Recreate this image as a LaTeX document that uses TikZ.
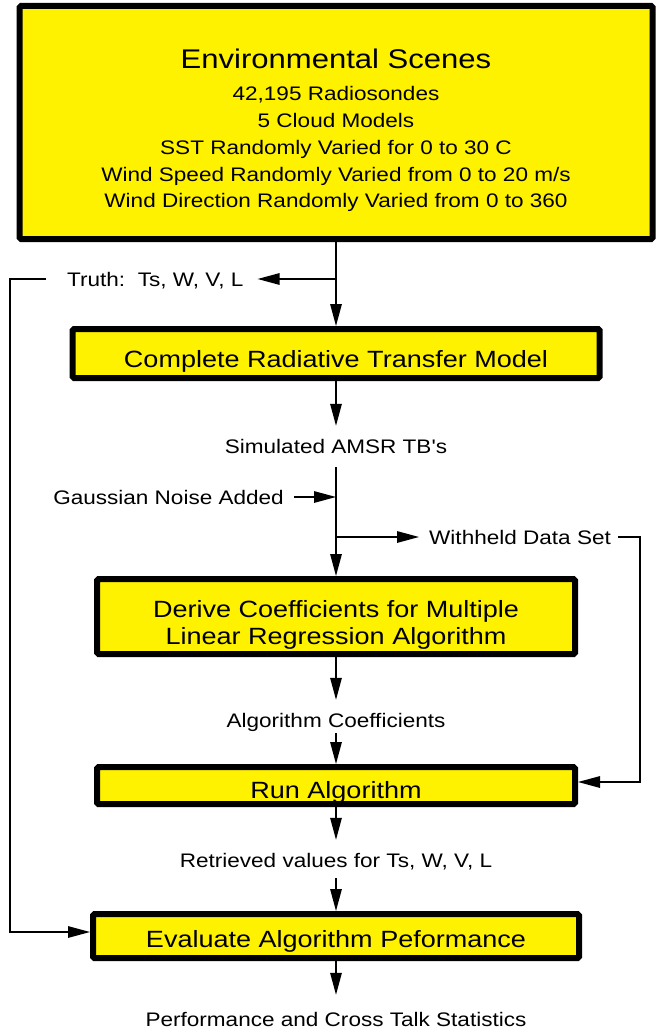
\documentclass[tikz,border=0pt]{standalone}
\usepackage{fontspec}
\setmainfont[FakeStretch=1.15, Ligatures=TeXOff]{Liberation Sans}
\usetikzlibrary{arrows.meta}

\newcommand{\titlesize}{\fontsize{27}{33}\selectfont}
\newcommand{\boxsize}{\fontsize{23.5}{27}\selectfont}
\newcommand{\notesize}{\fontsize{19.6}{26.75}\selectfont}

\begin{document}
\begin{tikzpicture}[x=1pt, y=-1pt,
  stage/.style={draw, line width=6pt, fill=yellow, rounded corners=1.5pt, align=center, font=\boxsize, inner sep=0pt},
  oneline/.style={text height=25pt, text depth=0pt},
  note/.style={font=\notesize, inner sep=0pt, text height=14pt, text depth=0pt},
  flow/.style={-{Triangle[length=22pt,width=11.5pt]}, line width=1.4pt}]

\useasboundingbox (0,0) rectangle (657,1032);
\coordinate (spine) at (336,0);

% stages
\node[stage, font=\notesize, minimum width=633pt, minimum height=233pt] (env) at (336,122.5)
  {{\titlesize\rule{0pt}{35pt}Environmental Scenes}\\[6pt]
   42,195 Radiosondes\\ 5 Cloud Models\\ SST Randomly Varied for 0 to 30 C\\
   Wind Speed Randomly Varied from 0 to 20 m/s\\ Wind Direction Randomly Varied from 0 to 360};
\node[stage, oneline, text height=27pt, minimum width=527pt, minimum height=49pt] (crt) at (336,353.5) {Complete Radiative Transfer Model};
\node[stage, minimum width=478pt, minimum height=75pt] (der) at (336,616.5)
  {\rule{0pt}{33pt}Derive Coefficients for Multiple\\ Linear Regression Algorithm};
\node[stage, oneline, minimum width=478pt, minimum height=37pt] (run) at (336,785.5) {Run Algorithm};
\node[stage, oneline, text height=22pt, minimum width=486pt, minimum height=44pt] (eva) at (336,936) {Evaluate Algorithm Peformance};

% data between the stages
\node[note, anchor=base west] (truth) at (67,286) {Truth:\ \ Ts, W, V, L};
\node[note, anchor=base] (sim) at (336,453) {Simulated AMSR TB's};
\node[note, anchor=base east] (gauss) at (284,504) {Gaussian Noise Added};
\node[note, anchor=base west] (with) at (429,544) {Withheld Data Set};
\node[note, anchor=base] (alg) at (336,727) {Algorithm Coefficients};
\node[note, anchor=base] (ret) at (336,867) {Retrieved values for Ts, W, V, L};
\node[note, anchor=base] (perf) at (336,1026) {Performance and Cross Talk Statistics};

% flow
\draw[flow] (env.south) -- (crt.north);
\draw[flow] (truth.east -| spine) -- ([xshift=14pt]truth.east);
\draw[flow] ([xshift=-21pt]truth.west) -- ++(-36,0) |- ([yshift=4pt]eva.west);
\draw[flow] (crt.south) -- ([yshift=13pt]sim.north);
\draw[flow] ([yshift=-14pt]sim.south) -- (der.north);
\draw[flow] ([xshift=10pt]gauss.east) -- (gauss.east -| spine);
\draw[flow] (with.west -| spine) -- ([xshift=-10pt]with.west);
\draw[flow] ([xshift=7pt]with.east) -- ++(22,0) |- ([yshift=3.5pt]run.east);
\draw[flow] (der.south) -- ([yshift=13pt]alg.north);
\draw[flow] ([yshift=-6pt]alg.south) -- (run.north);
\draw[flow] (run.south) -- ([yshift=13pt]ret.north);
\draw[flow] ([yshift=-11pt]ret.south) -- (eva.north);
\draw[flow] (eva.south) -- ([yshift=17pt]perf.north);
\end{tikzpicture}
\end{document}
